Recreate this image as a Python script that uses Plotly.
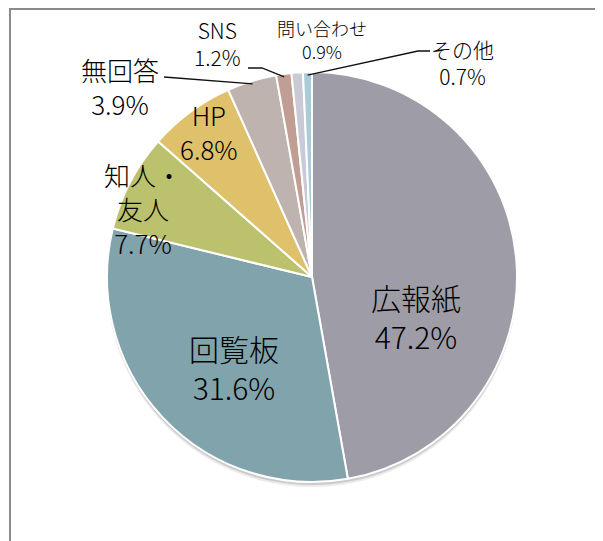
import math
import plotly.graph_objects as go

W, H = 603, 541
OFF = 8  # page body margin in the browser

# data
labels = ['広報紙', '回覧板', '知人・<br>友人', 'HP', '無回答', 'SNS', '問い合わせ', 'その他']
values = [47.2, 31.6, 7.7, 6.8, 3.9, 1.2, 0.9, 0.7]
colors = ['#9d9ca7', '#81a3ab', '#bbc16c', '#dfc16c', '#bfb3b0', '#c19e94', '#c9cad5', '#aacbd8']

# label placement (pixel centres in the screenshot) and font sizes
label_pos = [(416, 316), (234, 367), (143, 208), (209, 131), (120, 86), (217, 43), (322, 40), (462, 62)]
label_size = [30, 30, 26, 26, 26, 21, 18, 21]

# pie geometry in screenshot pixels
cx, cy, r = 312, 277, 205


def px(x, y):
    return (x - OFF) / W, 1 - (y - OFF) / H


def edge_point(i, frac=0.5, rr=r):
    # point on the outer arc of slice i (clockwise from 12 o'clock)
    total = sum(values)
    start = sum(values[:i])
    ang = 2 * math.pi * (start + values[i] * frac) / total
    return cx + rr * math.sin(ang), cy - rr * math.cos(ang)


def pie_domain(dy=0):
    x0, y1 = px(cx - r, cy - r + dy)
    x1, y0 = px(cx + r, cy + r + dy)
    return dict(x=[x0, x1], y=[y0, y1])


fig = go.Figure()

# soft shadow under the pie
for dy, a in [(5, 0.10), (3, 0.18)]:
    fig.add_trace(go.Pie(
        values=[1], marker=dict(colors=[f'rgba(60,60,60,{a})']),
        textinfo='none', hoverinfo='skip', showlegend=False,
        domain=pie_domain(dy),
    ))

fig.add_trace(go.Pie(
    labels=labels, values=values, sort=False, direction='clockwise', rotation=0,
    marker=dict(colors=colors, line=dict(color='white', width=2)),
    textinfo='none', hoverinfo='skip', showlegend=False,
    domain=pie_domain(),
))

for lab, val, (x, y), fs in zip(labels, values, label_pos, label_size):
    ax, ay = px(x, y)
    fig.add_annotation(x=ax, y=ay, xref='paper', yref='paper', showarrow=False,
                       xanchor='center', yanchor='middle',
                       text=f'{lab}<br>{val:.1f}%', align='center',
                       font=dict(size=fs, color='#000000', weight=300))

# leader lines for the thin slices
leaders = {4: [(164, 77)], 5: [(248, 68), (262, 68)], 7: [(430, 51), (418, 51)]}
for i, pts in leaders.items():
    path = pts + [edge_point(i, rr=r - 3)]
    d = 'M ' + ' L '.join(f'{px(x, y)[0]},{px(x, y)[1]}' for x, y in path)
    fig.add_shape(type='path', path=d, xref='paper', yref='paper',
                  line=dict(color='#111111', width=1.3))

# chart frame
fx, fy = px(10, 8)
fig.add_shape(type='rect', xref='paper', yref='paper',
              x0=fx, y0=-0.05, x1=1.05, y1=fy - 1 / H,
              line=dict(color='#8a8a8a', width=2))

fig.update_layout(
    width=W, height=H, margin=dict(l=0, r=0, t=0, b=0),
    paper_bgcolor='white', plot_bgcolor='white',
    font=dict(family='Noto Sans CJK JP', color='#000000'),
)

fig.write_html('out.html')
